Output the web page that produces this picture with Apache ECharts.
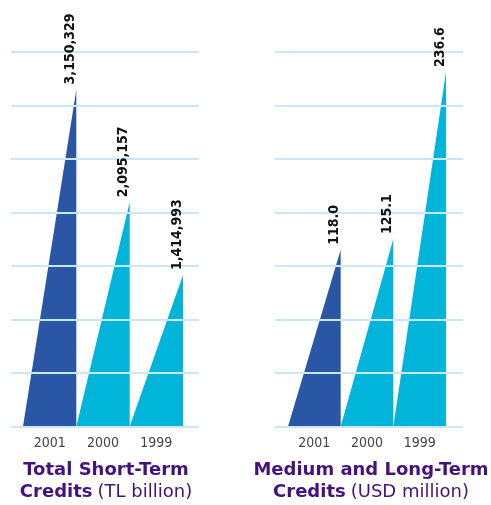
<!DOCTYPE html>
<html>
<head>
<meta charset="utf-8">
<script src="https://cdn.jsdelivr.net/npm/echarts@6/dist/echarts.min.js"></script>
<style>
  html, body { margin: 0; padding: 0; background: #fff; }
  #chart { width: 491px; height: 505px; }
</style>
</head>
<body>
<div id="chart"></div>
<script>
// data, oldest year on the right
const years = ['2001', '2000', '1999'];
const shortTerm = [3150329, 2095157, 1414993];   // TL billion
const longTerm = [118.0, 125.1, 236.6];          // USD million

const barColors = ['#2a57a5', '#00b5d9', '#00b5d9'];
const gridColor = '#c9e7f8';
const font = 'DejaVu Sans Condensed';

const chart = echarts.init(document.getElementById('chart'));

// right-angled "bar": slope on the left, vertical edge on the right
function triangle(params, api) {
  const idx = api.value(0);
  const base = api.coord([idx, 0]);
  const top = api.coord([idx, api.value(1)]);
  const w = api.size([1, 0])[0];
  const xl = base[0] - w / 2;
  const xr = base[0] + w / 2;
  return {
    type: 'polygon',
    shape: { points: [[xl, base[1]], [xr, base[1]], [xr, top[1]]] },
    style: { fill: barColors[idx] }
  };
}

// rotated value label above the tip (drawn over the grid lines)
function valueLabel(fmt) {
  return function (params, api) {
    const idx = api.value(0);
    const v = api.value(1);
    const top = api.coord([idx, v]);
    const xr = top[0] + api.size([1, 0])[0] / 2;
    return {
      type: 'text',
      x: xr - 6,
      y: top[1] - 5,
      rotation: Math.PI / 2,
      style: {
        text: fmt(v),
        fill: '#111',
        font: 'bold 14px "' + font + '"',
        align: 'left',
        verticalAlign: 'middle'
      }
    };
  };
}

const gridTop = 52;
const gridH = 374.5;

const catAxis = (gi) => ({
  type: 'category',
  gridIndex: gi,
  data: years,
  axisLine: { show: false },
  axisTick: { show: false },
  axisLabel: { color: '#444', fontFamily: font, fontSize: 14, margin: 10 }
});

const lineAxis = (gi, max, interval) => ({
  type: 'value',
  gridIndex: gi,
  min: 0,
  max: max,
  interval: interval,
  z: 10,
  axisLabel: { show: false },
  axisLine: { show: false },
  axisTick: { show: false },
  splitLine: { show: true, lineStyle: { color: gridColor, width: 2 } }
});

const hiddenY = (gi, max) => ({
  type: 'value', gridIndex: gi, min: 0, max: max, show: false
});

const titleRich = {
  b: { fontFamily: 'DejaVu Sans', fontWeight: 'bold', fontSize: 18, color: '#45127d', lineHeight: 22 },
  l: { fontFamily: 'DejaVu Sans', fontWeight: 'normal', fontSize: 18, color: '#45127d', lineHeight: 22 }
};

const option = {
  animation: false,
  title: [
    {
      text: '{b|Total Short-Term}\n{b|Credits} {l|(TL billion)}',
      left: 106, top: 459, textAlign: 'center', padding: 0,
      textStyle: { rich: titleRich }
    },
    {
      text: '{b|Medium and Long-Term}\n{b|Credits} {l|(USD million)}',
      left: 371, top: 459, textAlign: 'center', padding: 0,
      textStyle: { rich: titleRich }
    }
  ],
  grid: [
    { left: 11, width: 188, top: gridTop, height: gridH },
    { left: 23, width: 160, top: gridTop, height: gridH },
    { left: 275, width: 188, top: gridTop, height: gridH },
    { left: 288, width: 158, top: gridTop, height: gridH }
  ],
  xAxis: [
    { type: 'value', gridIndex: 0, show: false },
    catAxis(1),
    { type: 'value', gridIndex: 2, show: false },
    catAxis(3)
  ],
  yAxis: [
    lineAxis(0, 3500000, 500000),
    hiddenY(1, 3500000),
    lineAxis(2, 250, 250 / 7),
    hiddenY(3, 250)
  ],
  series: [
    {
      type: 'custom', z: 2,
      xAxisIndex: 1, yAxisIndex: 1,
      renderItem: triangle,
      data: shortTerm.map((v, i) => [i, v])
    },
    {
      type: 'custom', z: 20,
      xAxisIndex: 1, yAxisIndex: 1,
      renderItem: valueLabel(v => v.toLocaleString('en-US')),
      data: shortTerm.map((v, i) => [i, v])
    },
    {
      type: 'custom', z: 2,
      xAxisIndex: 3, yAxisIndex: 3,
      renderItem: triangle,
      data: longTerm.map((v, i) => [i, v])
    },
    {
      type: 'custom', z: 20,
      xAxisIndex: 3, yAxisIndex: 3,
      renderItem: valueLabel(v => v.toFixed(1)),
      data: longTerm.map((v, i) => [i, v])
    }
  ]
};

chart.setOption(option);
</script>
</body>
</html>
